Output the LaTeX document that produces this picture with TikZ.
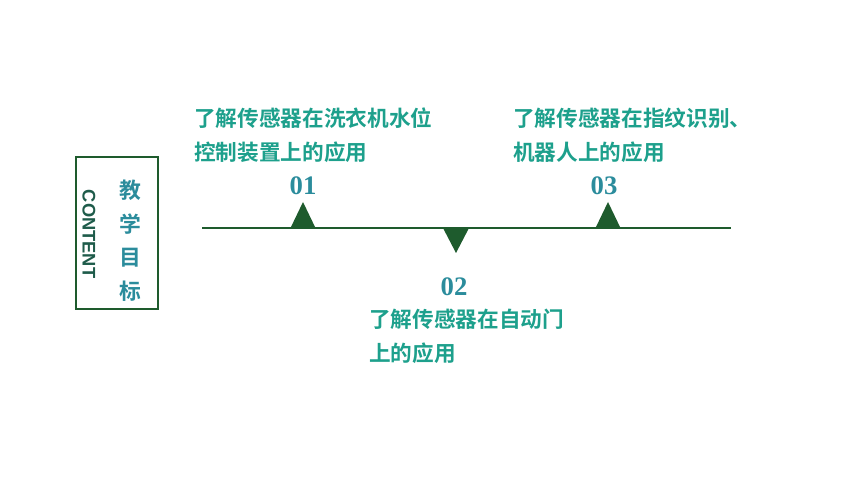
\documentclass[tikz,border=0pt]{standalone}
\usepackage{fontspec}
\setmainfont{Liberation Serif}
\newfontfamily\cjkbold{Noto Sans CJK SC Bold}
\newfontfamily\sansbold{Liberation Sans Bold}
\usetikzlibrary{positioning}
\definecolor{darkgreen}{HTML}{1E5B2D}
\definecolor{textteal}{HTML}{1DA08C}
\definecolor{numteal}{HTML}{2B8C9C}
\definecolor{contentgreen}{HTML}{1E5B4A}

\begin{document}
\begin{tikzpicture}[x=0.025cm, y=-0.025cm,
    goal/.style={anchor=west, align=left, inner sep=0pt, text=textteal,
        font=\cjkbold\fontsize{15.4}{24}\selectfont},
    num/.style={inner sep=0pt, text=numteal, font=\bfseries\fontsize{19}{19}\selectfont},
    title/.style={inner sep=0pt, text=numteal, font=\cjkbold\fontsize{15.5}{15.5}\selectfont},
    pointer/.style={fill=darkgreen}
]
\useasboundingbox (0,0) rectangle (860,484);

% Title box
\draw[darkgreen, line width=1.4pt] (76,157) rectangle (158,309);
\node[rotate=-90, inner sep=0pt, text=contentgreen,
    font=\sansbold\fontsize{13}{13}\selectfont] (content) at (89,234) {CONTENT};
\foreach \c/\y in {教/190,学/224,目/258,标/291}
    \node[title] at (130,\y) {\c};

% Time line
\coordinate (lineL) at (202,228);
\coordinate (lineR) at (731,228);
\draw[darkgreen, line width=1.4pt] (lineL) -- (lineR);

% Markers
\foreach \x in {303,608}
    \fill[pointer] (\x-12.5,228) -- (\x,202) -- (\x+12.5,228) -- cycle;
\fill[pointer] (443,228) -- (456,253) -- (469,228) -- cycle;

% Numbers
\node[num] (n1) at (303,186) {01};
\node[num] (n2) at (454,287) {02};
\node[num] (n3) at (604,186) {03};

% Goals
\node[goal] (g1) at (194,135) {了解传感器在洗衣机水位\\控制装置上的应用};
\node[goal] (g2) at (369,336) {了解传感器在自动门\\上的应用};
\node[goal] (g3) at (513,135) {了解传感器在指纹识别、\\机器人上的应用};

\end{tikzpicture}
\end{document}
